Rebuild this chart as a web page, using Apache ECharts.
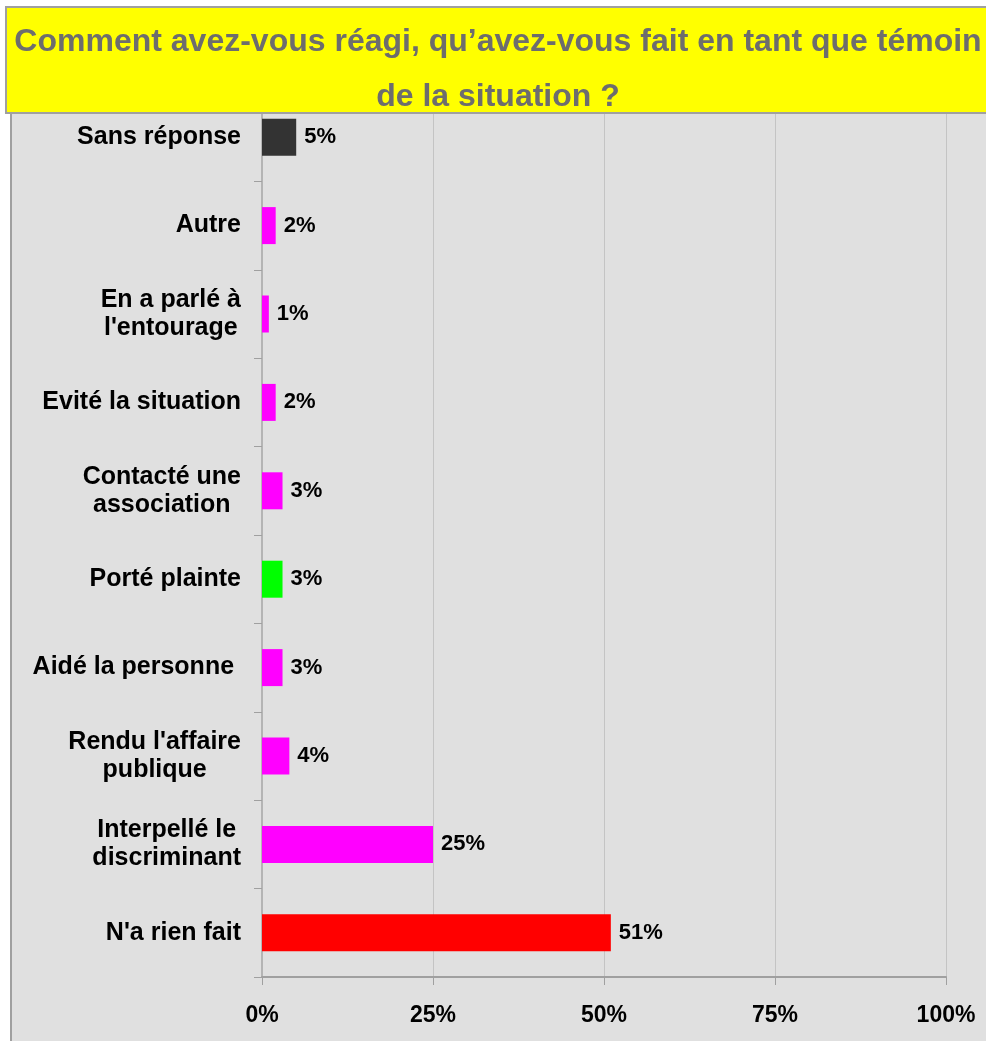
<!DOCTYPE html>
<html>
<head>
<meta charset="utf-8">
<script src="https://cdn.jsdelivr.net/npm/echarts@6/dist/echarts.min.js"></script>
<style>
  html, body { margin: 0; padding: 0; background: #ffffff; }
  #main { width: 986px; height: 1041px; }
</style>
</head>
<body>
<div id="main"></div>
<script>
// chart data
var titleText = "Comment avez-vous réagi, qu’avez-vous fait en tant que témoin\nde la situation ?";
var categories = [
    "Sans réponse",
    "Autre",
    "En a parlé à\nl'entourage",
    "Evité la situation",
    "Contacté une\nassociation",
    "Porté plainte",
    "Aidé la personne ",
    "Rendu l'affaire\npublique",
    "Interpellé le\ndiscriminant",
    "N'a rien fait"
];
var values = [5, 2, 1, 2, 3, 3, 3, 4, 25, 51];
var barColors = ["#333333", "#ff00ff", "#ff00ff", "#ff00ff", "#ff00ff", "#00ff00", "#ff00ff", "#ff00ff", "#ff00ff", "#ff0000"];
var xTicks = [0, 25, 50, 75, 100];

var font = "'Liberation Sans', Arial, sans-serif";
var myChart = echarts.init(document.getElementById("main"));

var option = {
    animation: false,
    backgroundColor: '#ffffff',
    graphic: [
        {
            type: 'rect',
            z: -100,
            shape: { x: 11, y: 113, width: 980, height: 935 },
            style: { fill: '#e0e0e0' }
        },
        {
            type: 'rect',
            z: -99,
            shape: { x: 10, y: 113, width: 2, height: 935 },
            style: { fill: '#a0a0a0' }
        },
        {
            type: 'rect',
            z: 100,
            shape: { x: 6, y: 7, width: 990, height: 106 },
            style: { fill: '#ffff00', stroke: '#a0a0a0', lineWidth: 2 }
        },
        {
            type: 'text',
            z: 101,
            x: 498,
            y: 15,
            style: {
                text: titleText,
                fill: '#6d6d6d',
                font: 'bold 32px ' + font,
                align: 'center',
                verticalAlign: 'top',
                lineHeight: 55
            }
        }
    ],
    grid: {
        left: 262,
        right: 40,
        top: 93,
        bottom: 64,
        containLabel: false
    },
    xAxis: {
        type: 'value',
        min: 0,
        max: 100,
        interval: 25,
        axisLine: { show: true, lineStyle: { color: '#a0a0a0', width: 2 } },
        axisTick: { show: true, length: 8, lineStyle: { color: '#a0a0a0' } },
        splitLine: { show: true, lineStyle: { color: '#c4c4c4', width: 1 } },
        axisLabel: {
            margin: 27,
            color: '#000000',
            fontFamily: font,
            fontWeight: 'bold',
            fontSize: 23,
            formatter: function (v) { return xTicks.indexOf(v) >= 0 ? v + '%' : ''; }
        }
    },
    yAxis: {
        type: 'category',
        data: categories,
        inverse: true,
        axisLine: { show: true, lineStyle: { color: '#b4b4b4', width: 2 } },
        axisTick: { show: true, length: 8, lineStyle: { color: '#a0a0a0' } },
        axisLabel: {
            margin: 21,
            color: '#000000',
            fontFamily: font,
            fontWeight: 'bold',
            fontSize: 25,
            lineHeight: 28,
            formatter: function (v) {
                return v.split('\n').map(function (s) { return '{c|' + s + '}'; }).join('\n');
            },
            rich: {
                c: {
                    align: 'center',
                    color: '#000000',
                    fontFamily: font,
                    fontWeight: 'bold',
                    fontSize: 25,
                    lineHeight: 28
                }
            }
        }
    },
    series: [{
        type: 'bar',
        barWidth: 37,
        data: values.map(function (v, i) {
            return { value: v, itemStyle: { color: barColors[i] } };
        }),
        label: {
            show: true,
            position: 'right',
            distance: 8,
            color: '#000000',
            fontFamily: font,
            fontWeight: 'bold',
            fontSize: 22,
            formatter: '{c}%'
        }
    }]
};

myChart.setOption(option);
</script>
</body>
</html>
